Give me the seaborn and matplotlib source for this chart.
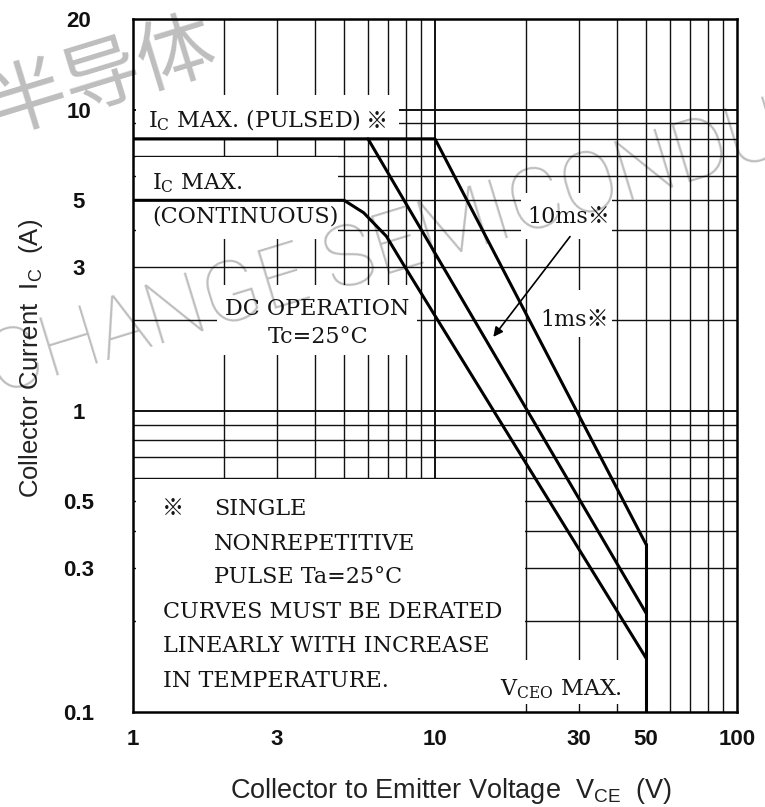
import pandas as pd
import matplotlib.pyplot as plt
import seaborn as sns
from matplotlib.patches import Rectangle
from matplotlib.ticker import NullLocator

sns.set_theme(style="white")
plt.rcParams["font.family"] = ["DejaVu Serif", "Noto Sans CJK JP"]
plt.rcParams["mathtext.fontset"] = "dejavuserif"

# Safe operating area, Vce (V) vs Ic (A)
v_1ms = [1, 10, 50]
i_1ms = [8, 8, 0.36]
v_10ms = [6, 50]
i_10ms = [8, 0.213]
v_dc = [1, 5, 5.8, 6.9, 7.8, 50]
i_dc = [5, 5, 4.55, 3.8, 3.1, 0.151]
v_vceo = [50, 50]
i_vceo = [0.36, 0.1]

x_ticks = [1, 3, 10, 30, 50, 100]
x_ticklabels = ["1", "3", "10", "30", "50", "100"]
y_ticks = [0.1, 0.3, 0.5, 1, 3, 5, 10, 20]
y_ticklabels = ["0.1", "0.3", "0.5", "1", "3", "5", "10", "20"]
x_grid = [2, 3, 4, 5, 6, 7, 8, 9, 10, 20, 30, 40, 50, 60, 70, 80, 90]
y_grid = [0.2, 0.3, 0.4, 0.5, 0.6, 0.7, 0.8, 0.9, 1, 2, 3, 4, 5, 6, 7, 8, 9, 10]

# white areas behind the printed labels (x0, x1, y0, y1)
label_boxes = [
    (1.025, 7.6, 8, 11.2),
    (1.025, 4.77, 3.72, 6.95),
    (1.9, 8.7, 1.53, 2.62),
    (19.2, 38.5, 3.72, 5.3),
    (20.5, 38.5, 1.76, 2.52),
    (1.025, 19.8, 0.1, 0.595),
    (19.8, 49.5, 0.106, 0.149),
]

curves = {"1ms": (v_1ms, i_1ms), "10ms": (v_10ms, i_10ms),
          "dc": (v_dc, i_dc), "vceo": (v_vceo, i_vceo)}
df = pd.concat([pd.DataFrame({"V": v, "I": i, "curve": k})
                for k, (v, i) in curves.items()], ignore_index=True)

fig = plt.figure(figsize=(7.65, 8.07), dpi=100)
ax = fig.add_axes([0.17386, 0.11772, 0.78954, 0.85874])
ax.set_xscale("log")
ax.set_yscale("log")

for xv in x_grid:
    ax.axvline(xv, color="#111111", lw=1.4 if xv == 10 else 1.0, zorder=0.5)
for yv in y_grid:
    ax.axhline(yv, color="#111111", lw=1.4 if yv in (1, 10) else 1.0, zorder=0.5)

for x0, x1, y0, y1 in label_boxes:
    ax.add_patch(Rectangle((x0, y0), x1 - x0, y1 - y0, facecolor="white",
                           edgecolor="none", zorder=1))

sns.lineplot(data=df, x="V", y="I", units="curve", estimator=None, sort=False,
             color="black", linewidth=2.2, ax=ax, zorder=3, legend=False)

ax.set_xlim(1, 100)
ax.set_ylim(0.1, 20)
ax.set_xticks(x_ticks)
ax.set_xticklabels(x_ticklabels)
ax.set_yticks(y_ticks)
ax.set_yticklabels(y_ticklabels)
ax.xaxis.set_minor_locator(NullLocator())
ax.yaxis.set_minor_locator(NullLocator())
ax.tick_params(length=0)
ax.tick_params(axis="x", pad=12)
ax.tick_params(axis="y", pad=39)
for lbl in ax.get_xticklabels() + ax.get_yticklabels():
    lbl.set_fontfamily(["Liberation Sans Narrow", "Liberation Sans"])
    lbl.set_fontweight("bold")
    lbl.set_fontsize(16)
    lbl.set_color("#111111")
for lbl in ax.get_yticklabels():
    lbl.set_ha("center")

for s in ax.spines.values():
    s.set_color("black")
    s.set_linewidth(1.8)
    s.set_zorder(4)

lab_font = dict(family=["Liberation Sans", "DejaVu Sans"], color="#222222")
ax.set_xlabel(r"Collector to Emitter Voltage  V$_{\mathregular{CE}}$  (V)",
              fontsize=19.5, **lab_font)
ax.set_ylabel(r"Collector Current  I$_{\mathregular{C}}$  (A)",
              fontsize=18.5, **lab_font)
ax.xaxis.set_label_coords(0.526, -0.092)
ax.yaxis.set_label_coords(-0.146, 0.51)

txt = dict(fontsize=16, color="#151515", zorder=5, va="baseline")
ax.text(1.12, 8.71, r"I$_{\mathregular{C}}$ MAX. (PULSED)", ha="left", **txt)
ax.text(6.4, 8.71, "※", ha="center", family=["Noto Sans CJK JP"], **txt)
ax.text(1.156, 5.42, r"I$_{\mathregular{C}}$ MAX.", ha="left", **txt)
ax.text(1.156, 4.21, "(CONTINUOUS)", ha="left", **txt)
ax.text(4.07, 2.08, "DC OPERATION", ha="center", **txt)
ax.text(4.1, 1.68, "Tc=25°C", ha="center", **txt)
ax.text(20.2, 4.21, "10ms※", ha="left", **txt)
ax.text(22.3, 1.92, "1ms※", ha="left", **txt)
ax.text(1.36, 0.451, "※", ha="center", **txt)
ax.text(1.85, 0.451, "SINGLE", ha="left", **txt)
ax.text(1.85, 0.345, "NONREPETITIVE", ha="left", **txt)
ax.text(1.85, 0.268, "PULSE Ta=25°C", ha="left", **txt)
ax.text(1.26, 0.205, "CURVES MUST BE DERATED", ha="left", **txt)
ax.text(1.26, 0.158, "LINEARLY WITH INCREASE", ha="left", **txt)
ax.text(1.26, 0.121, "IN TEMPERATURE.", ha="left", **txt)
ax.text(16.4, 0.1139, r"V$_{\mathregular{CEO}}$ MAX.", ha="left", **txt)

ax.annotate("", xy=(15.6, 1.76), xytext=(28.0, 3.79),
            arrowprops=dict(arrowstyle="-|>", color="black", lw=1.2,
                            mutation_scale=14, shrinkA=0, shrinkB=0),
            zorder=5)

# watermark
fig.text(0.1346, 0.903, "半导体", family=["Noto Sans CJK SC"], fontsize=56,
         fontweight="light", color="black", alpha=0.26, rotation=17,
         ha="center", va="center", zorder=10)
fig.text(-0.004, 0.512, "CHANGE SEMICONDUCTOR", family=["Roboto", "DejaVu Sans"],
         fontweight="light", fontsize=61, color="black", alpha=0.26,
         rotation=17, rotation_mode="anchor", ha="left", va="baseline",
         zorder=10)

fig.savefig("out.png", dpi=100)
